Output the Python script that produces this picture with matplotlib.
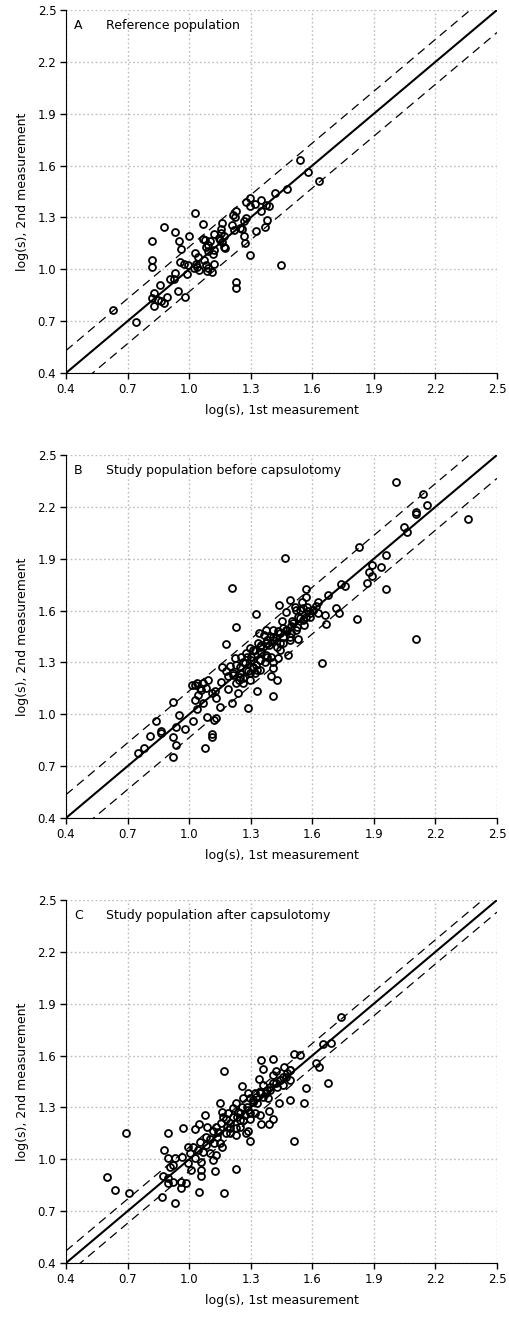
import numpy as np
import matplotlib.pyplot as plt

# Panel A: reference population
a_first = [0.63, 0.74, 1.538, 1.579, 1.631, 1.478, 1.42, 1.298, 1.276, 1.35, 1.323, 1.373,
           1.298, 1.389, 1.35, 1.23, 1.216, 1.378, 1.276, 1.266, 1.368, 1.326, 1.25, 1.209,
           1.217, 1.159, 1.157, 1.155, 1.169, 1.149, 1.159, 1.12, 1.172, 1.177, 1.269, 1.271,
           1.298, 1.028, 1.068, 0.878, 0.929, 0.818, 0.951, 1.0, 1.068, 1.079, 1.1, 0.961,
           1.084, 1.12, 1.117, 1.092, 1.029, 1.042, 1.073, 0.82, 0.818, 0.956, 0.977, 0.992,
           1.031, 1.036, 1.049, 1.026, 1.084, 1.094, 1.086, 1.109, 1.12, 0.99, 0.929, 0.925,
           0.906, 1.448, 1.23, 1.23, 0.859, 0.948, 0.979, 0.828, 0.817, 0.846, 0.862, 0.89,
           0.878, 0.83, 1.256, 1.225, 1.145, 1.09]
a_second = [0.765, 0.696, 1.631, 1.562, 1.513, 1.463, 1.442, 1.413, 1.392, 1.402, 1.377, 1.371,
            1.365, 1.365, 1.335, 1.337, 1.315, 1.285, 1.294, 1.281, 1.242, 1.223, 1.238, 1.254,
            1.227, 1.265, 1.235, 1.212, 1.192, 1.169, 1.16, 1.202, 1.131, 1.121, 1.192, 1.154,
            1.083, 1.323, 1.263, 1.242, 1.215, 1.165, 1.165, 1.192, 1.173, 1.169, 1.162, 1.115,
            1.131, 1.11, 1.087, 1.106, 1.092, 1.073, 1.054, 1.054, 1.013, 1.044, 1.029, 1.025,
            1.033, 1.015, 0.996, 1.006, 1.025, 1.01, 0.992, 0.985, 1.033, 0.973, 0.977, 0.946,
            0.946, 1.023, 0.927, 0.892, 0.908, 0.873, 0.837, 0.865, 0.831, 0.821, 0.815, 0.837,
            0.806, 0.787, 1.231, 1.3, 1.18, 1.14]

# Panel B: study population before capsulotomy
b_first = [2.009, 2.138, 2.159, 2.107, 2.107, 2.359, 2.049, 2.06, 1.829, 1.96, 1.889, 1.937,
           1.877, 1.889, 1.867, 1.958, 1.469, 1.208, 1.741, 1.76, 1.678, 1.567, 1.567, 1.551,
           1.49, 1.438, 1.626, 1.616, 1.717, 1.73, 1.819, 2.107, 1.649, 1.66, 1.668, 1.327,
           1.229, 1.178, 1.47, 1.514, 1.522, 1.555, 1.587, 1.603, 1.628, 1.571, 1.538, 1.559,
           1.503, 1.45, 1.495, 1.47, 1.433, 1.409, 1.376, 1.341, 1.363, 1.392, 1.425, 1.457,
           1.49, 1.53, 1.498, 1.522, 1.441, 1.409, 1.376, 1.335, 1.295, 1.319, 1.352, 1.376,
           1.4, 1.441, 1.482, 1.433, 1.409, 1.409, 1.397, 1.43, 1.409, 1.329, 1.289, 1.208,
           1.149, 1.279, 1.255, 1.222, 1.23, 1.271, 1.303, 1.344, 1.368, 1.327, 1.311, 1.279,
           1.246, 1.214, 1.19, 1.182, 1.198, 1.159, 1.263, 1.295, 1.319, 1.344, 1.23, 1.263,
           1.238, 1.19, 1.157, 1.125, 1.133, 1.109, 1.092, 1.068, 1.06, 1.028, 1.016, 1.036,
           1.052, 1.084, 1.068, 1.039, 1.028, 1.044, 1.019, 1.089, 1.122, 1.133, 1.109, 1.109,
           1.078, 0.919, 0.95, 0.938, 0.98, 0.919, 0.938, 0.921, 0.839, 0.861, 0.861, 0.809,
           0.779, 0.749, 1.389, 1.3, 1.26, 1.35, 1.455, 1.53, 1.58, 1.285, 1.245,
           1.248, 1.28, 1.313, 1.345, 1.378, 1.41, 1.443, 1.475, 1.508, 1.313, 1.345, 1.378,
           1.215, 1.248, 1.297, 1.329, 1.427, 1.459, 1.491, 1.524, 1.556, 1.589, 1.54, 1.573,
           1.605]
b_second = [2.342, 2.273, 2.211, 2.169, 2.161, 2.132, 2.082, 2.053, 1.97, 1.922, 1.864, 1.851,
            1.822, 1.8, 1.762, 1.722, 1.903, 1.733, 1.752, 1.743, 1.691, 1.722, 1.681, 1.652,
            1.662, 1.633, 1.652, 1.629, 1.614, 1.585, 1.552, 1.434, 1.294, 1.573, 1.523, 1.581,
            1.504, 1.404, 1.594, 1.623, 1.604, 1.614, 1.585, 1.604, 1.585, 1.565, 1.556, 1.517,
            1.537, 1.54, 1.508, 1.489, 1.479, 1.485, 1.489, 1.473, 1.46, 1.45, 1.44, 1.45,
            1.431, 1.434, 1.469, 1.489, 1.412, 1.431, 1.412, 1.412, 1.382, 1.373, 1.363, 1.344,
            1.334, 1.373, 1.344, 1.325, 1.305, 1.267, 1.223, 1.196, 1.103, 1.134, 1.034, 1.063,
            1.045, 1.353, 1.334, 1.325, 1.286, 1.296, 1.315, 1.315, 1.305, 1.286, 1.267, 1.258,
            1.238, 1.228, 1.219, 1.248, 1.277, 1.273, 1.209, 1.2, 1.238, 1.257, 1.18, 1.18,
            1.126, 1.145, 1.184, 1.132, 1.094, 1.122, 1.196, 1.18, 1.142, 1.171, 1.171, 1.18,
            1.151, 1.151, 1.065, 1.03, 1.084, 1.113, 0.959, 0.984, 0.968, 0.978, 0.887, 0.866,
            0.803, 1.072, 0.993, 0.926, 0.912, 0.866, 0.824, 0.754, 0.962, 0.905, 0.891, 0.872,
            0.803, 0.774, 1.402, 1.33, 1.3, 1.4, 1.5, 1.56, 1.6, 1.25, 1.2,
            1.276, 1.333, 1.372, 1.391, 1.43, 1.449, 1.468, 1.488, 1.526, 1.276, 1.314, 1.333,
            1.237, 1.218, 1.237, 1.256, 1.391, 1.41, 1.449, 1.507, 1.545, 1.565, 1.603, 1.622,
            1.603]

# Panel C: study population after capsulotomy
c_first = [1.739, 1.65, 1.692, 1.509, 1.542, 1.35, 1.409, 1.358, 1.169, 1.422, 1.461, 1.49,
           1.619, 1.631, 1.678, 1.569, 1.559, 1.49, 1.438, 1.509, 1.34, 1.409, 1.441, 1.474,
           1.49, 1.457, 1.425, 1.392, 1.36, 1.376, 1.344, 1.319, 1.287, 1.259, 1.263, 1.295,
           1.327, 1.384, 1.389, 1.409, 1.352, 1.389, 1.344, 1.319, 1.287, 1.259, 1.23, 1.214,
           1.238, 1.271, 1.295, 1.246, 1.214, 1.19, 1.165, 1.149, 1.161, 1.178, 1.157, 1.133,
           1.117, 1.141, 1.182, 1.198, 1.23, 1.23, 1.279, 1.287, 1.298, 1.23, 1.169, 1.128,
           1.079, 1.089, 1.049, 1.028, 0.969, 1.084, 1.052, 1.084, 1.122, 1.16, 1.133, 1.117,
           1.1, 1.068, 1.044, 1.019, 0.995, 1.006, 1.028, 1.06, 0.995, 1.011, 1.06, 1.06,
           1.049, 0.963, 0.93, 0.898, 0.878, 0.898, 0.919, 0.906, 0.873, 0.898, 0.898, 0.922,
           0.958, 0.958, 0.987, 0.869, 0.929, 0.69, 0.6, 0.64, 0.708, 1.2, 1.25, 1.31, 1.1,
           1.134, 1.183, 1.232, 1.281, 1.313, 1.346, 1.378, 1.411, 1.443, 1.476, 1.199, 1.264,
           1.297, 1.329, 1.362, 1.394, 1.427, 1.459, 1.492, 1.15, 1.248]
c_second = [1.825, 1.665, 1.671, 1.611, 1.603, 1.572, 1.582, 1.522, 1.513, 1.513, 1.532, 1.516,
            1.555, 1.532, 1.443, 1.414, 1.324, 1.343, 1.324, 1.104, 1.462, 1.487, 1.458, 1.478,
            1.458, 1.43, 1.439, 1.42, 1.43, 1.381, 1.391, 1.381, 1.381, 1.424, 1.352, 1.352,
            1.362, 1.352, 1.281, 1.233, 1.204, 1.204, 1.256, 1.266, 1.285, 1.304, 1.324, 1.295,
            1.276, 1.256, 1.231, 1.227, 1.246, 1.266, 1.246, 1.324, 1.276, 1.231, 1.208, 1.189,
            1.165, 1.16, 1.15, 1.179, 1.14, 1.179, 1.15, 1.165, 1.104, 0.944, 0.803, 0.934,
            1.254, 1.185, 1.204, 1.173, 1.183, 1.131, 1.102, 1.082, 1.092, 1.073, 1.025, 0.996,
            1.034, 1.044, 1.054, 1.073, 1.073, 1.034, 1.005, 0.986, 0.976, 0.938, 0.938, 0.903,
            0.812, 1.011, 1.005, 1.005, 1.054, 1.154, 0.967, 0.953, 0.905, 0.893, 0.861, 0.87,
            0.87, 0.836, 0.861, 0.784, 0.745, 1.154, 0.895, 0.822, 0.803, 1.21, 1.27, 1.33, 1.12,
            1.131, 1.189, 1.247, 1.305, 1.343, 1.382, 1.401, 1.439, 1.459, 1.497, 1.151, 1.228,
            1.266, 1.324, 1.362, 1.401, 1.42, 1.478, 1.516, 1.093, 1.189]

panels = [
    ("A", "Reference population", a_first, a_second, 0.13),
    ("B", "Study population before capsulotomy", b_first, b_second, 0.135),
    ("C", "Study population after capsulotomy", c_first, c_second, 0.07),
]
ticks = [0.4, 0.7, 1.0, 1.3, 1.6, 1.9, 2.2, 2.5]

fig = plt.figure(figsize=(5.1, 13.22), dpi=100)
tops = [10, 455, 900]
for (letter, title, xs, ys, limit), top in zip(panels, tops):
    ax = fig.add_axes([66 / 510, 1 - (top + 363) / 1322, 431 / 510, 363 / 1322])
    ax.set_xlim(0.4, 2.5)
    ax.set_ylim(0.4, 2.5)
    ax.set_xticks(ticks)
    ax.set_yticks(ticks)
    ax.set_xticklabels([f"{t:.1f}" for t in ticks])
    ax.set_yticklabels([f"{t:.1f}" for t in ticks])
    ax.grid(True, color="#bdbdbd", linestyle=(0, (1.2, 1.8)), linewidth=1.0)
    ax.spines["top"].set_visible(False)
    ax.spines["right"].set_visible(False)
    ax.tick_params(direction="out", length=4, width=1, labelsize=8.5, pad=3)
    line = np.array([0.4, 2.5])
    ax.plot(line, line, color="black", lw=1.5, zorder=3)
    ax.plot(line, line + limit, color="black", lw=0.9, ls=(0, (7, 4.5)), zorder=3)
    ax.plot(line, line - limit, color="black", lw=0.9, ls=(0, (7, 4.5)), zorder=3)
    ax.plot(xs, ys, "o", mfc="none", mec="black", mew=1.3, ms=5, zorder=4,
            clip_on=False)
    ax.text(0.439, 2.413, letter, fontsize=9, va="center", ha="left")
    ax.text(0.595, 2.413, title, fontsize=9, va="center", ha="left")
    ax.set_xlabel("log(s), 1st measurement", fontsize=9, labelpad=6)
    ax.set_ylabel("log(s), 2nd measurement", fontsize=9, labelpad=6)

fig.savefig("out.png", dpi=100)
